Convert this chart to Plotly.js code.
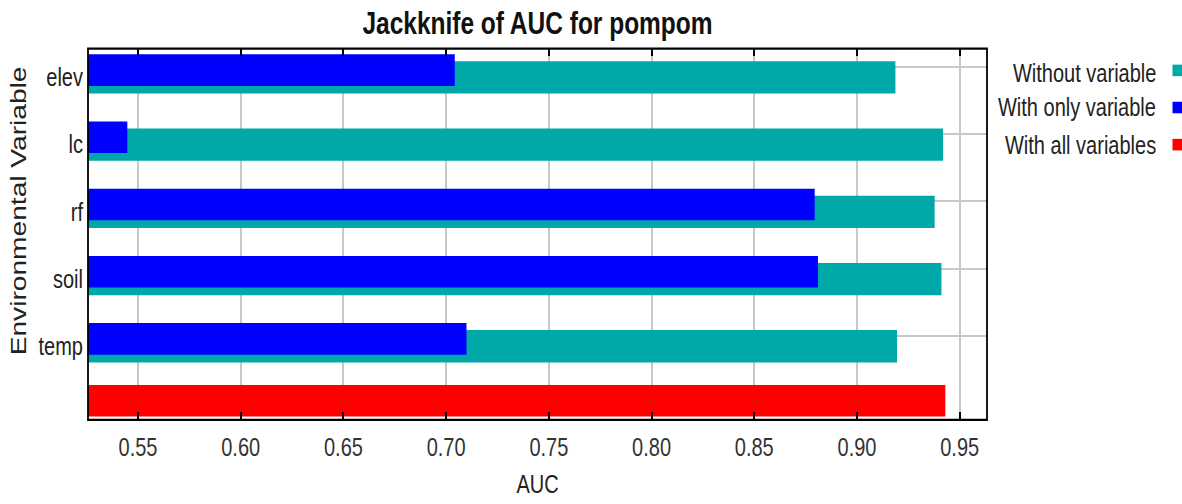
<!DOCTYPE html>
<html>
<head>
<meta charset="utf-8">
<script src="https://cdn.plot.ly/plotly-3.0.1.min.js"></script>
<style>
  html, body { margin: 0; padding: 0; background: #ffffff; overflow: hidden; }
  #wrap { width: 1182px; height: 504px; overflow: hidden; }
  #chart { width: 1182px; height: 394px; transform: scaleY(1.28); transform-origin: 0 0; }
</style>
</head>
<body>
<div id="wrap"><div id="chart"></div></div>
<script>
// ---- data ----
const variables = ["elev", "lc", "rf", "soil", "temp"];
const withoutVariable = [0.9187, 0.9419, 0.9378, 0.9411, 0.9195];
const withOnlyVariable = [0.7042, 0.5448, 0.8794, 0.8810, 0.7099];
const allCategory = ["all"];
const withAllVariables = [0.9430];
const seriesNames = ["Without variable", "With only variable", "With all variables"];
const seriesColors = ["#00A8A8", "#0000FF", "#FF0000"];
const xTickValues = [0.55, 0.60, 0.65, 0.70, 0.75, 0.80, 0.85, 0.90, 0.95];
const xTickLabels = ["0.55", "0.60", "0.65", "0.70", "0.75", "0.80", "0.85", "0.90", "0.95"];
const chartTitle = "Jackknife of AUC for pompom";
const xTitle = "AUC";
const yTitle = "Environmental Variable";

// ---- chart ----
const FONT = "'Liberation Sans', Arial, sans-serif";
const allCats = variables.concat(allCategory);

const traces = [
  { type: "bar", orientation: "h", name: seriesNames[0], y: variables, x: withoutVariable,
    offset: -0.085, width: 0.48, marker: { color: seriesColors[0], line: { width: 0 } },
    hoverinfo: "skip" },
  { type: "bar", orientation: "h", name: seriesNames[1], y: variables, x: withOnlyVariable,
    offset: -0.189, width: 0.47, marker: { color: seriesColors[1], line: { width: 0 } },
    hoverinfo: "skip" },
  { type: "bar", orientation: "h", name: seriesNames[2], y: allCategory, x: withAllVariables,
    offset: -0.27, width: 0.47, marker: { color: seriesColors[2], line: { width: 0 } },
    hoverinfo: "skip" }
];

const legendY = [0.936, 0.842, 0.740];
const swatchY = [0.9416, 0.8407, 0.7425];
const annotations = [];
seriesNames.forEach((n, i) => {
  annotations.push({ xref: "paper", yref: "paper", x: 1.1905, y: legendY[i], xanchor: "right", yanchor: "middle",
    text: n, showarrow: false, font: { family: FONT, size: 20, color: "#222222" } });
  annotations.push({ xref: "paper", yref: "paper", x: 1.2058, y: swatchY[i], xanchor: "left", yanchor: "middle",
    text: " ", showarrow: false, width: 11, height: 8, borderpad: 0, bgcolor: seriesColors[i],
    font: { family: FONT, size: 6 } });
});
annotations.push({ xref: "paper", yref: "paper", x: -0.0768, y: 0.563, xanchor: "center", yanchor: "middle",
  text: yTitle, textangle: -90, showarrow: false, font: { family: FONT, size: 22, color: "#222222" } });

const layout = {
  width: 1182, height: 394,
  margin: { l: 88, r: 195, t: 38, b: 66, pad: 0 },
  paper_bgcolor: "#ffffff", plot_bgcolor: "#ffffff",
  showlegend: false,
  barmode: "overlay",
  title: { text: chartTitle, x: 0.5, xref: "paper", xanchor: "center", y: 0.955, yref: "container", yanchor: "middle",
    font: { family: FONT, size: 24.5, weight: "bold", color: "#111111" } },
  xaxis: {
    range: [0.52566, 0.96329], autorange: false,
    tickmode: "array", tickvals: xTickValues, ticktext: xTickLabels,
    tickfont: { family: FONT, size: 20, color: "#333333" },
    ticks: "inside", ticklen: 6, tickwidth: 2, tickcolor: "#000000",
    showline: false, mirror: "ticks",
    showgrid: true, gridcolor: "#c8c8c8", gridwidth: 2, zeroline: false,
    ticklabelstandoff: 7,
    title: { text: xTitle, font: { family: FONT, size: 20, color: "#222222" }, standoff: 12 }
  },
  yaxis: {
    type: "category", categoryorder: "array", categoryarray: allCats,
    range: [5.25, -0.273], autorange: false,
    tickmode: "array", tickvals: variables, ticktext: variables,
    tickfont: { family: FONT, size: 20, color: "#222222" },
    ticks: "", showline: false,
    showgrid: true, gridcolor: "#c8c8c8", gridwidth: 1.5, zeroline: false,
    ticklabelshift: -8, ticklabelstandoff: 4
  },
  yaxis2: {
    overlaying: "y", side: "right", type: "linear",
    range: [5.25, -0.273], autorange: false,
    tickmode: "array", tickvals: [0, 1, 2, 3, 4], showticklabels: false,
    ticks: "inside", ticklen: 7, tickwidth: 1.6, tickcolor: "#000000",
    showgrid: false, zeroline: false, showline: false
  },
  shapes: [
    { type: "rect", xref: "paper", yref: "paper", x0: 0, x1: 1, y0: 0, y1: 1,
      line: { color: "#000000", width: 1.8 }, fillcolor: "rgba(0,0,0,0)", layer: "above" }
  ],
  annotations: annotations
};

Plotly.newPlot("chart", traces, layout, { displayModeBar: false, staticPlot: true });
</script>
</body>
</html>
